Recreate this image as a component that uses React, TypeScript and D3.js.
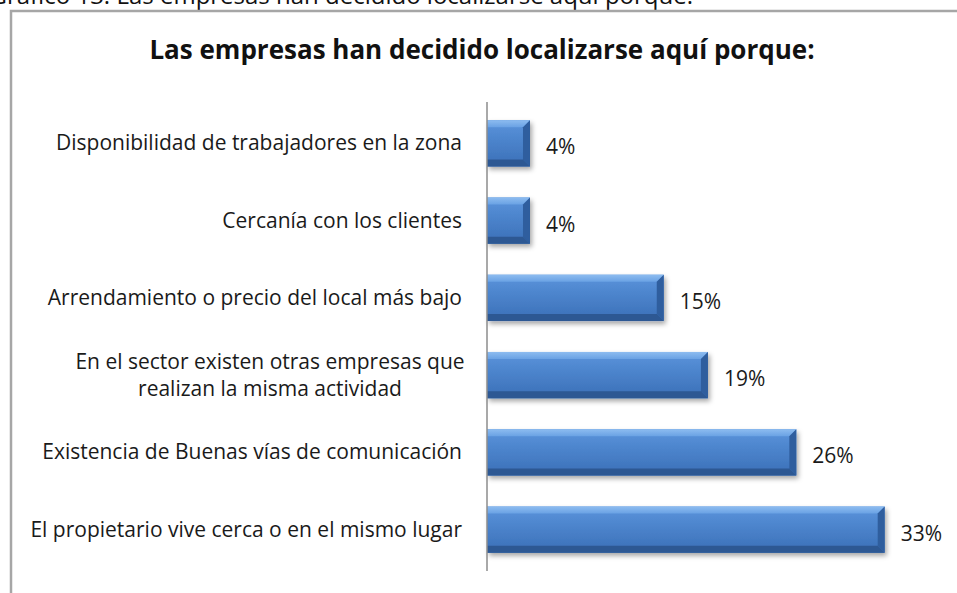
import * as d3 from 'd3'

const categories = [
  ['Disponibilidad de trabajadores en la zona'],
  ['Cercanía con los clientes'],
  ['Arrendamiento o precio del local más bajo'],
  ['En el sector existen otras empresas que', 'realizan la misma actividad'],
  ['Existencia de Buenas vías de comunicación'],
  ['El propietario vive cerca o en el mismo lugar'],
]
const values = [3.6, 3.6, 14.8, 18.5, 25.9, 33.3]
const valueLabels = ['4%', '4%', '15%', '19%', '26%', '33%']

const W = 957
const H = 593
const font = '"Open Sans", Lato, sans-serif'

export default function App() {
  const y = d3
    .scaleBand<number>()
    .domain(d3.range(values.length))
    .range([102, 571])
    .paddingInner(0.4)
    .paddingOuter(0.235)
  const x = d3.scaleLinear().domain([0, 35]).range([487, 905])
  const bw = y.bandwidth()
  const bev = 7

  return (
    <svg
      width={W}
      height={H}
      style={{ position: 'absolute', left: 0, top: 0, background: '#fff' }}
      fontFamily={font}
    >
      <defs>
        <linearGradient id="barFill" x1="0" y1="0" x2="0" y2="1">
          <stop offset="0%" stopColor="#5a94dc" />
          <stop offset="100%" stopColor="#3a6fb7" />
        </linearGradient>
        <linearGradient id="barTop" x1="0" y1="0" x2="0" y2="1">
          <stop offset="0%" stopColor="#8dbcf0" />
          <stop offset="100%" stopColor="#6aa2e4" />
        </linearGradient>
        <filter id="shadow" x="-10%" y="-20%" width="130%" height="160%">
          <feDropShadow dx="2" dy="3" stdDeviation="2.5" floodColor="#000" floodOpacity="0.35" />
        </filter>
      </defs>

      {/* caption above the chart frame, cut by the top edge as in the source */}
      <text x={693} y={4} textAnchor="end" fontSize={24} fill="#111">
        Gráfico 13: Las empresas han decidido localizarse aquí porque:
      </text>

      <rect x={11} y={11} width={W + 20} height={H + 20} fill="#fff" stroke="#a6a6a6" strokeWidth={2.5} />

      <text x={482} y={59} textAnchor="middle" fontSize={26} fontWeight="bold" fill="#111">
        Las empresas han decidido localizarse aquí porque:
      </text>

      {values.map((v, i) => {
        const x0 = x(0)
        const x1 = x(v)
        const y0 = y(i)!
        const y1 = y0 + bw
        const cy = y0 + bw / 2
        const lines = categories[i]
        const lh = 27
        return (
          <g key={i}>
            <g filter="url(#shadow)">
              <rect x={x0} y={y0} width={x1 - x0} height={bw} fill="url(#barFill)" />
            </g>
            <polygon
              points={`${x0},${y0} ${x1},${y0} ${x1 - bev},${y0 + bev} ${x0},${y0 + bev}`}
              fill="url(#barTop)"
            />
            <polygon
              points={`${x1},${y0} ${x1},${y1} ${x1 - bev},${y1 - bev} ${x1 - bev},${y0 + bev}`}
              fill="#2f5e9e"
            />
            <polygon
              points={`${x0},${y1} ${x1},${y1} ${x1 - bev},${y1 - bev} ${x0},${y1 - bev}`}
              fill="#2d5893"
            />
            <text x={x1 + 16} y={cy + 11} fontSize={21} fill="#1a1a1a">
              {valueLabels[i]}
            </text>
            {lines.length === 1 ? (
              <text x={462} y={cy + 7} textAnchor="end" fontSize={21} fill="#1a1a1a">
                {lines[0]}
              </text>
            ) : (
              lines.map((l, j) => (
                <text
                  key={j}
                  x={270}
                  y={cy + 7 + (j - (lines.length - 1) / 2) * lh}
                  textAnchor="middle"
                  fontSize={21}
                  fill="#1a1a1a"
                >
                  {l}
                </text>
              ))
            )}
          </g>
        )
      })}

      <line x1={x(0)} x2={x(0)} y1={y.range()[0]} y2={y.range()[1]} stroke="#8c8c8c" strokeWidth={1.5} />
    </svg>
  )
}
